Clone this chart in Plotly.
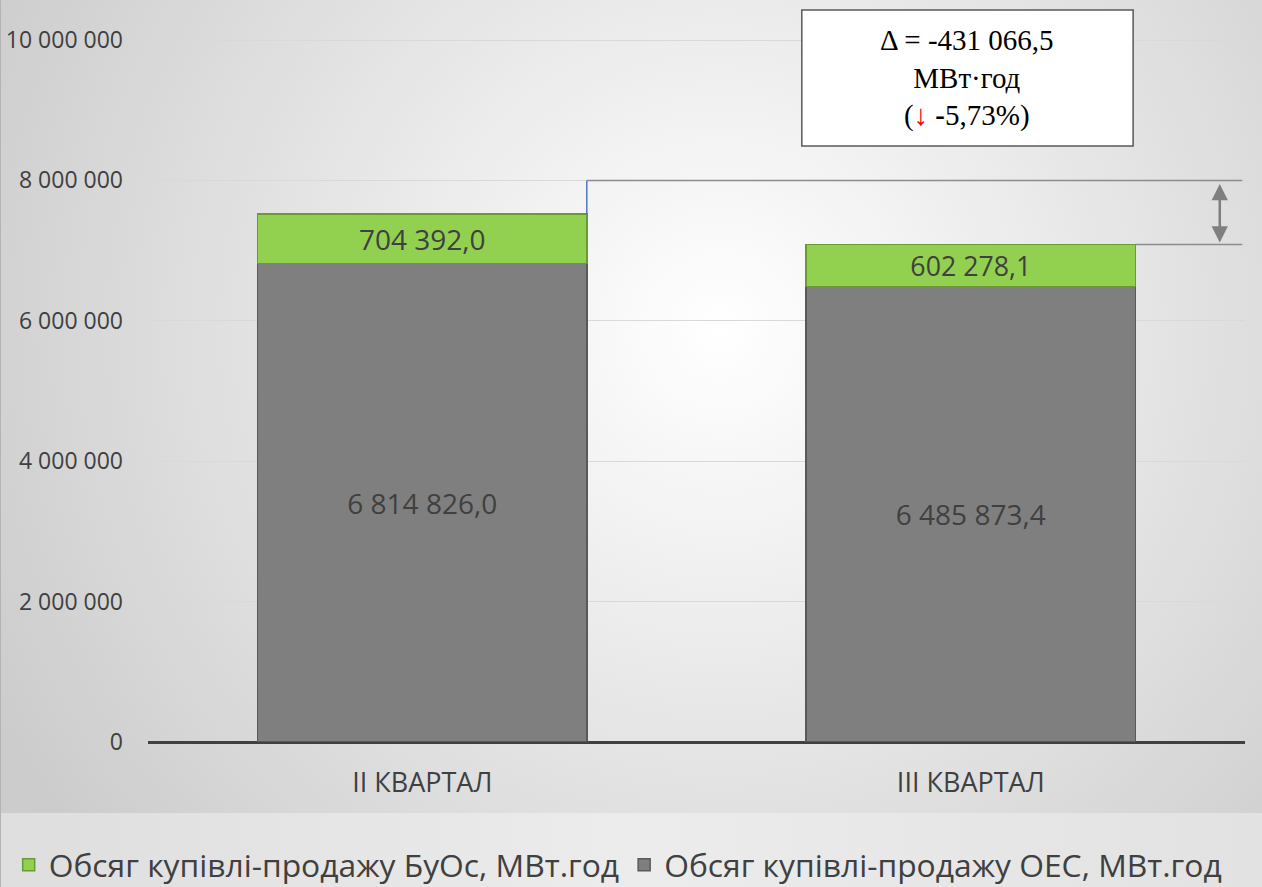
import base64
import plotly.graph_objects as go

categories = ["II КВАРТАЛ", "III КВАРТАЛ"]
oes_values = [6814826.0, 6485873.4]
buos_values = [704392.0, 602278.1]
series_names = ["Обсяг купівлі-продажу ОЕС, МВт.год", "Обсяг купівлі-продажу БуОс, МВт.год"]
y_ticks = [0, 2000000, 4000000, 6000000, 8000000, 10000000]

W, H = 1262, 887
ML, MR, MT, MB = 148, 17, 0, 145
plot_w = W - ML - MR
plot_h = H - MT - MB
px_per_unit = 70.2 / 1e6
y_top = plot_h / px_per_unit

totals = [a + b for a, b in zip(oes_values, buos_values)]
delta = totals[1] - totals[0]
pct = delta / totals[0] * 100


def fmt_num(v, d=1):
    s = f"{abs(v):,.{d}f}".replace(",", " ").replace(".", ",")
    return ("-" if v < 0 else "") + s


fig = go.Figure()
fig.add_trace(go.Bar(
    x=categories, y=oes_values, name=series_names[0],
    marker=dict(color="#7f7f7f", line=dict(color="#595959", width=1.5)),
    texttemplate="%{y:,.1f}", textposition="inside", insidetextanchor="middle",
    textfont=dict(family="Open Sans", size=28, color="#404040"),
))
fig.add_trace(go.Bar(
    x=categories, y=buos_values, name=series_names[1],
    marker=dict(color="#92d050", line=dict(color="#6b9a35", width=1.5)),
    texttemplate="%{y:,.1f}", textposition="inside", insidetextanchor="middle",
    textfont=dict(family="Open Sans", size=28, color="#404040"),
))

# background: radial gradient chart area + lighter legend strip
svg = (
    '<svg xmlns="http://www.w3.org/2000/svg" width="1262" height="887" preserveAspectRatio="none">'
    '<defs>'
    '<radialGradient id="g" gradientUnits="userSpaceOnUse" cx="720" cy="330" r="820">'
    '<stop offset="0%" stop-color="#ffffff"/><stop offset="100%" stop-color="#cccccc"/>'
    '</radialGradient>'
    '<linearGradient id="l" x1="0" y1="0" x2="1" y2="0">'
    '<stop offset="0%" stop-color="#dedede"/><stop offset="50%" stop-color="#ececec"/>'
    '<stop offset="100%" stop-color="#e2e2e2"/>'
    '</linearGradient>'
    '</defs>'
    '<rect x="0" y="0" width="1262" height="813" fill="url(#g)"/>'
    '<rect x="0" y="813" width="1262" height="74" fill="url(#l)"/>'
    '<line x1="0.5" y1="0" x2="0.5" y2="887" stroke="#b4b4b4" stroke-width="1"/>'
    '</svg>'
)
uri = "data:image/svg+xml;base64," + base64.b64encode(svg.encode()).decode()
fig.add_layout_image(dict(
    source=uri, xref="paper", yref="paper",
    x=-ML / plot_w, y=1 + MT / plot_h,
    sizex=W / plot_w, sizey=H / plot_h,
    xanchor="left", yanchor="top", sizing="stretch", layer="below",
))

# connector lines
top_line = 8000000
fig.add_shape(type="line", xref="x", yref="y", x0=0.3, x1=0.3, y0=totals[0], y1=top_line,
              line=dict(color="#4a78c0", width=1.5))
fig.add_shape(type="line", xref="x", yref="y", x0=0.3, x1=1.495, y0=top_line, y1=top_line,
              line=dict(color="#8c8c8c", width=1.5))
fig.add_shape(type="line", xref="x", yref="y", x0=1.3, x1=1.495, y0=totals[1], y1=totals[1],
              line=dict(color="#8c8c8c", width=1.5))
fig.add_annotation(x=1.454, y=totals[1], ax=1.454, ay=top_line, xref="x", yref="y",
                   axref="x", ayref="y", text="", showarrow=True, arrowhead=2,
                   startarrowhead=2, arrowside="end+start", arrowsize=1.3,
                   arrowwidth=2.5, arrowcolor="#7f7f7f", startstandoff=2, standoff=2)

# delta box
box_y0 = (plot_h - 146) / px_per_unit
box_y1 = (plot_h - 10) / px_per_unit
fig.add_shape(type="rect", xref="x", yref="y", x0=0.692, x1=1.296, y0=box_y0, y1=box_y1,
              fillcolor="white", line=dict(color="#595959", width=1.5), layer="above")
fig.add_annotation(
    x=0.994, y=(box_y0 + box_y1) / 2, xref="x", yref="y", showarrow=False,
    text=(f"Δ = {fmt_num(delta)}<br>МВт·год<br>(<span style='color:#ff0000'>↓</span> "
          f"<b>-</b>{fmt_num(abs(pct), 2)}%)"),
    font=dict(family="Liberation Serif", size=29, color="#000000"),
    align="center",
)

fig.update_layout(
    width=W, height=H,
    margin=dict(l=ML, r=MR, t=MT, b=MB, autoexpand=False),
    barmode="stack", bargap=0.4,
    separators=", ",
    paper_bgcolor="#e4e4e4", plot_bgcolor="rgba(0,0,0,0)",
    font=dict(family="Open Sans", color="#595959"),
    showlegend=True,
    legend=dict(orientation="h", xref="paper", yref="paper",
                x=-0.127, xanchor="left", y=(plot_h - 865) / plot_h, yanchor="middle",
                traceorder="reversed", font=dict(family="Open Sans", size=31.8, color="#404040"),
                itemwidth=30, bgcolor="rgba(0,0,0,0)"),
    xaxis=dict(showgrid=False, ticks="", tickfont=dict(size=27, color="#404040"),
               ticklabelstandoff=22, showline=False),
    yaxis=dict(range=[0, y_top], tickvals=y_ticks, tickformat=",d",
               gridcolor="#d9d9d9", gridwidth=1.3,
               zeroline=True, zerolinecolor="#404040", zerolinewidth=3,
               tickfont=dict(size=23, color="#404040"), ticklabelstandoff=24),
)

fig.write_html("out.html", config={"displayModeBar": False},
               post_script="document.body.style.margin='0';document.body.style.overflow='hidden';")
